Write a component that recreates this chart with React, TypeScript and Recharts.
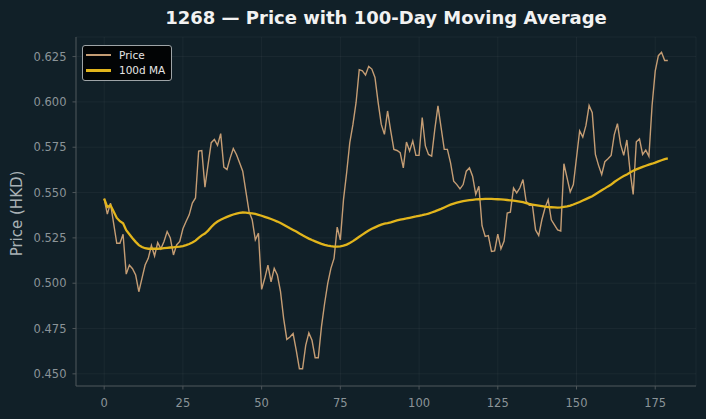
import React from 'react';
import { LineChart, Line, XAxis, YAxis, CartesianGrid } from 'recharts';

// daily closing price, one value per trading day (day 0 .. 179)
const PRICE: number[] = [
  0.5466, 0.5381, 0.5442, 0.533, 0.522, 0.522, 0.527, 0.505, 0.51, 0.508,
  0.5045, 0.4953, 0.5027, 0.51, 0.5137, 0.5208, 0.515, 0.5224, 0.519, 0.523,
  0.5285, 0.525, 0.5156, 0.5211, 0.523, 0.53, 0.534, 0.5377, 0.5442, 0.547,
  0.5729, 0.5732, 0.553, 0.5655, 0.5775, 0.5793, 0.576, 0.5825, 0.564, 0.5627,
  0.569, 0.5743, 0.571, 0.5664, 0.5618, 0.5507, 0.5396, 0.535, 0.5239, 0.5276,
  0.4966, 0.5027, 0.51, 0.5008, 0.5082, 0.5045, 0.4953, 0.4805, 0.469, 0.4703,
  0.4722, 0.463, 0.4528, 0.4528, 0.4657, 0.4726, 0.4685, 0.4589, 0.4589, 0.4759,
  0.4888, 0.4999, 0.5082, 0.5137, 0.5309, 0.5239, 0.5461, 0.5609, 0.5775, 0.5876,
  0.5997, 0.6178, 0.6172, 0.6148, 0.6196, 0.6181, 0.6135, 0.5997, 0.5876, 0.5821,
  0.595, 0.584, 0.5738, 0.5732, 0.572, 0.5636, 0.5779, 0.5729, 0.5785, 0.5705,
  0.5705, 0.5914, 0.5757, 0.571, 0.5701, 0.5849, 0.5978, 0.5858, 0.5738, 0.5738,
  0.5664, 0.5563, 0.5544, 0.552, 0.5544, 0.5618, 0.5636, 0.559, 0.549, 0.5535,
  0.5317, 0.5258, 0.5263, 0.5175, 0.5178, 0.5271, 0.5189, 0.5233, 0.5387, 0.5392,
  0.5525, 0.5498, 0.5525, 0.5572, 0.5452, 0.543, 0.543, 0.5294, 0.5263, 0.535,
  0.5415, 0.5461, 0.535, 0.5322, 0.5294, 0.5288, 0.5659, 0.5581, 0.5503, 0.5544,
  0.5692, 0.584, 0.5806, 0.587, 0.598, 0.594, 0.571, 0.565, 0.56, 0.567,
  0.5686, 0.5705, 0.582, 0.588, 0.5766, 0.5705, 0.579, 0.562, 0.549, 0.578,
  0.5796, 0.571, 0.5734, 0.57, 0.598, 0.617, 0.6255, 0.6274, 0.6228, 0.6228,
];

// 100-day moving average of the close
const MA_100: number[] = [
  0.5466, 0.542, 0.543, 0.5395, 0.536, 0.5342, 0.533, 0.5292, 0.527, 0.5248,
  0.5228, 0.521, 0.52, 0.5193, 0.519, 0.519, 0.519, 0.519, 0.5191, 0.5193,
  0.5195, 0.5197, 0.5198, 0.52, 0.5202, 0.5205, 0.521, 0.5216, 0.5224, 0.5235,
  0.525, 0.5264, 0.5274, 0.529, 0.531, 0.5327, 0.534, 0.535, 0.5358, 0.5366,
  0.5373, 0.5379, 0.5384, 0.5388, 0.539, 0.5389, 0.5387, 0.5385, 0.5382, 0.5377,
  0.5372, 0.5366, 0.536, 0.5354, 0.5347, 0.534, 0.5332, 0.5323, 0.5313, 0.5303,
  0.5294, 0.5285, 0.5274, 0.5264, 0.5255, 0.5246, 0.5238, 0.5231, 0.5224, 0.5217,
  0.5211, 0.5207, 0.5204, 0.5202, 0.5202, 0.5203, 0.5207, 0.5213, 0.5222, 0.5232,
  0.5244, 0.5256, 0.5268, 0.528, 0.5291, 0.53, 0.5308, 0.5316, 0.5323, 0.5329,
  0.5332, 0.5336, 0.5341, 0.5346, 0.5351, 0.5354, 0.5357, 0.5361, 0.5365, 0.5368,
  0.5372, 0.5375, 0.5379, 0.5384, 0.539, 0.5396, 0.5403, 0.541, 0.5418, 0.5426,
  0.5433, 0.5439, 0.5444, 0.5449, 0.5453, 0.5456, 0.5458, 0.546, 0.5462, 0.5463,
  0.5464, 0.5465, 0.5465, 0.5465, 0.5464, 0.5463, 0.5462, 0.5461, 0.5459, 0.5457,
  0.5455, 0.5453, 0.545, 0.5447, 0.5442, 0.5437, 0.5434, 0.5431, 0.5428, 0.5425,
  0.5422, 0.542, 0.5419, 0.5418, 0.5417, 0.5418, 0.5421, 0.5424, 0.5428, 0.5434,
  0.5441, 0.5448, 0.5456, 0.5464, 0.5472, 0.548, 0.5491, 0.5502, 0.5513, 0.5523,
  0.5534, 0.5544, 0.5558, 0.557, 0.5581, 0.5591, 0.56, 0.561, 0.562, 0.5628,
  0.5635, 0.5642, 0.5648, 0.5654, 0.5659, 0.5665, 0.5672, 0.5678, 0.5684, 0.5688,
];

const X_TICKS = [0, 25, 50, 75, 100, 125, 150, 175];
const Y_TICKS = [0.45, 0.475, 0.5, 0.525, 0.55, 0.575, 0.6, 0.625];

const TITLE = '1268 — Price with 100-Day Moving Average';
const Y_LABEL = 'Price (HKD)';
const PRICE_NAME = 'Price';
const MA_NAME = '100d MA';

const BG = '#112028';
const PRICE_COLOR = '#c59d74';
const MA_COLOR = '#e2b51c';
const AXIS_COLOR = '#4d5559';
const TICK_COLOR = '#8b9498';
const FONT = '"DejaVu Sans", sans-serif';

const W = 706;
const H = 419;

const data = PRICE.map((p, i) => ({ day: i, price: p, ma: MA_100[i] }));

const YLabel = ({ viewBox }: any) => {
  const cy = viewBox.y + viewBox.height / 2 + 2;
  return (
    <text
      x={17}
      y={cy}
      transform={`rotate(-90 17 ${cy})`}
      textAnchor="middle"
      dominantBaseline="central"
      fill="#a9b2b6"
      fontSize={15}
      fontFamily={FONT}
    >
      {Y_LABEL}
    </text>
  );
};

const LegendRow = ({ color, width, label, top }: { color: string; width: number; label: string; top: number }) => (
  <div style={{ position: 'absolute', left: 3, top, height: 14, display: 'flex', alignItems: 'center' }}>
    <div style={{ width: 25, height: width, background: color }} />
    <span style={{ marginLeft: 8, fontSize: 10.5, color: '#e6e6e6', lineHeight: '14px' }}>{label}</span>
  </div>
);

export default function App() {
  return (
    <div style={{ position: 'fixed', left: 0, top: 0, width: W, height: H, background: BG, fontFamily: FONT }}>
      <div
        style={{
          position: 'absolute',
          left: 76,
          width: 620,
          top: 9,
          textAlign: 'center',
          fontSize: 18,
          lineHeight: '18px',
          fontWeight: 'bold',
          color: '#f2f2f2',
        }}
      >
        {TITLE}
      </div>

      <LineChart width={W} height={H} data={data} margin={{ top: 37, right: 10, bottom: 0, left: 0 }}>
        <CartesianGrid stroke="rgba(255,255,255,0.045)" />
        <XAxis
          dataKey="day"
          type="number"
          domain={[-8.95, 187.95]}
          allowDataOverflow
          ticks={X_TICKS}
          height={33}
          tickSize={3.5}
          tickMargin={9}
          stroke={AXIS_COLOR}
          tick={{ fill: TICK_COLOR, fontSize: 11.5, fontFamily: FONT }}
        />
        <YAxis
          type="number"
          domain={[0.4433, 0.6358]}
          allowDataOverflow
          ticks={Y_TICKS}
          width={76}
          tickSize={3.5}
          tickMargin={6}
          stroke={AXIS_COLOR}
          tickFormatter={(v: number) => v.toFixed(3)}
          tick={{ fill: TICK_COLOR, fontSize: 11.5, fontFamily: FONT }}
          label={{ content: YLabel }}
        />
        <Line
          dataKey="price"
          name={PRICE_NAME}
          type="linear"
          stroke={PRICE_COLOR}
          strokeWidth={1.4}
          dot={false}
          activeDot={false}
          isAnimationActive={false}
        />
        <Line
          dataKey="ma"
          name={MA_NAME}
          type="linear"
          stroke={MA_COLOR}
          strokeWidth={2.3}
          dot={false}
          activeDot={false}
          isAnimationActive={false}
        />
      </LineChart>

      <div
        style={{
          position: 'absolute',
          left: 82,
          top: 45,
          width: 88,
          height: 34,
          background: '#020405',
          border: '1px solid #9ea4a7',
          borderRadius: 3,
        }}
      >
        <LegendRow color={PRICE_COLOR} width={2} label={PRICE_NAME} top={2} />
        <LegendRow color={MA_COLOR} width={3} label={MA_NAME} top={17} />
      </div>
    </div>
  );
}
